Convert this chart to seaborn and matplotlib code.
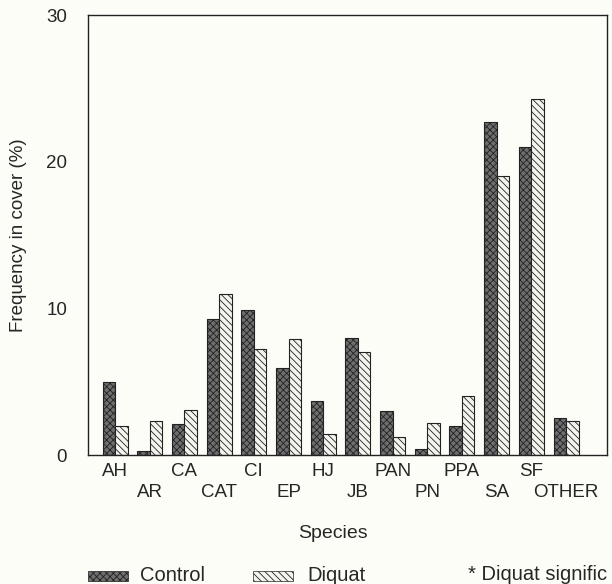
import pandas as pd
import matplotlib
matplotlib.use("Agg")
import matplotlib.pyplot as plt
import matplotlib.patches as mpatches
import seaborn as sns

species = ["AH", "AR", "CA", "CAT", "CI", "EP", "HJ", "JB", "PAN", "PN", "PPA", "SA", "SF", "OTHER"]
control = [5.0, 0.25, 2.1, 9.3, 9.9, 5.9, 3.7, 8.0, 3.0, 0.4, 2.0, 22.7, 21.0, 2.5]
diquat = [2.0, 2.3, 3.1, 11.0, 7.2, 7.9, 1.4, 7.0, 1.2, 2.2, 4.0, 19.0, 24.3, 2.3]

df = pd.DataFrame({
    "species": species * 2,
    "value": control + diquat,
    "treatment": ["Control"] * len(species) + ["Diquat"] * len(species),
})

sns.set_style("white")
plt.rcParams["font.family"] = ["Liberation Sans", "DejaVu Sans"]
plt.rcParams["hatch.linewidth"] = 0.6
bg = "#fdfdf8"
W, H = 612, 584

fig = plt.figure(figsize=(6.12, 5.84), dpi=100, facecolor=bg)
ax = fig.add_axes([88 / W, 1 - 455 / H, 519 / W, 440 / H])
ax.set_facecolor(bg)

sns.barplot(data=df, x="species", y="value", hue="treatment", order=species,
            hue_order=["Control", "Diquat"], width=0.72, gap=0, errorbar=None,
            legend=False, ax=ax)

styles = {"Control": ("#6e6e6e", "xxxxx"), "Diquat": ("#f4f4ee", "\\\\\\\\\\")}
for cont, name in zip(ax.containers, ["Control", "Diquat"]):
    fc, hatch = styles[name]
    for bar in cont:
        bar.set_facecolor(fc)
        bar.set_edgecolor("#222222")
        bar.set_linewidth(0.8)
        bar.set_hatch(hatch)

ax.set_xlim(-0.78, 14.18)
ax.set_ylim(0, 30)
ax.set_yticks([0, 10, 20, 30])
ax.set_yticks([5, 15, 25], minor=True)
ax.tick_params(axis="y", which="both", direction="in", length=5, width=0.8,
               labelsize=13.5, pad=15)
ax.set_xticks(range(len(species)))
ax.set_xticklabels(species, fontsize=13.5)
ax.tick_params(axis="x", length=0, pad=6)
# alternate labels on two rows
for i, tick in enumerate(ax.xaxis.get_major_ticks()):
    if i % 2 == 1:
        tick.set_pad(21)
for sp in ax.spines.values():
    sp.set_linewidth(1.0)
    sp.set_color("#222222")

ax.set_xlabel("Species", fontsize=14)
ax.xaxis.set_label_coords((333 - 88) / 519, (455 - 525) / 440)
ax.set_ylabel("Frequency in cover (%)", fontsize=13.5)
ax.yaxis.set_label_coords((27 - 88) / 519, 0.5)

# legend drawn below the axes
for (x0, name) in [(88, "Control"), (253, "Diquat")]:
    fc, hatch = styles[name]
    fig.add_artist(mpatches.Rectangle((x0 / W, 1 - 581 / H), 40 / W, 10 / H,
                                      facecolor=fc, hatch=hatch, edgecolor="#222222",
                                      linewidth=0.5, transform=fig.transFigure))
fig.text(140 / W, 1 - 581 / H, "Control", fontsize=14.5, va="baseline", ha="left")
fig.text(307 / W, 1 - 581 / H, "Diquat", fontsize=14.5, va="baseline", ha="left")
fig.text(468 / W, 1 - 580 / H, "* Diquat signific", fontsize=14.5, va="baseline", ha="left")

fig.savefig("out.png", dpi=100, facecolor=bg)
